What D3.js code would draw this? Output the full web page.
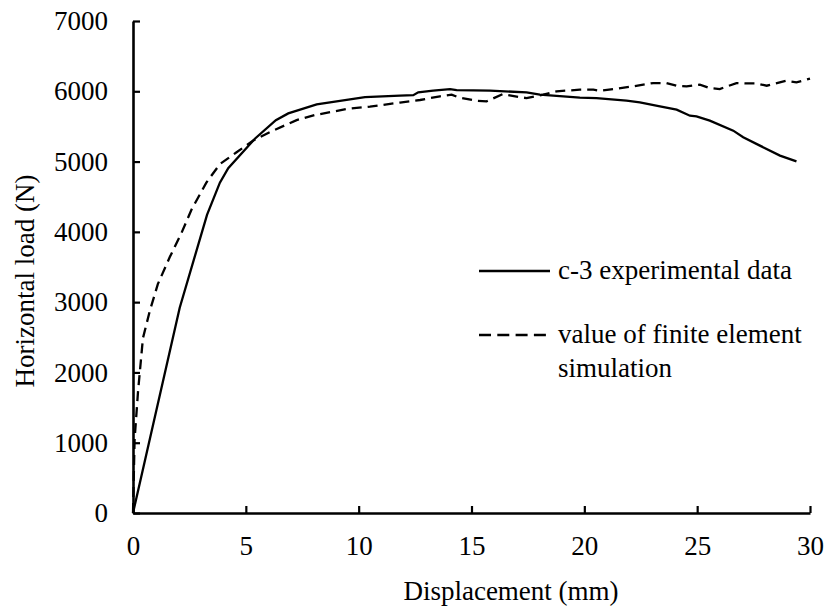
<!DOCTYPE html>
<html>
<head>
<meta charset="utf-8">
<script src="https://cdn.jsdelivr.net/npm/d3@7"></script>
<style>
  body { margin: 0; background: #fff; }
</style>
</head>
<body>
<div id="chart"></div>
<script>
// c-3 experimental data: displacement (mm) / load (N)
const expDisp = [0, 2.07, 3.28, 3.85, 4.22, 5.4, 6.33, 6.88, 8.14, 10.28, 11.83, 12.42, 12.64, 13.3, 14.05, 14.34,
    15.82, 17.44, 18.03, 19.8, 20.54, 21.87, 22.46, 23.35, 24.09, 24.68, 24.97, 25.56, 26.6, 27.04, 27.78, 28.67, 29.4];
const expLoad = [0, 2920, 4242, 4700, 4906, 5325, 5589, 5685, 5815, 5916, 5937, 5945, 5985, 6008, 6032, 6017,
    6008, 5985, 5952, 5910, 5904, 5866, 5843, 5785, 5738, 5653, 5644, 5582, 5440, 5345, 5227, 5085, 5004];

// finite element simulation
const simDisp = [0, 0.07, 0.22, 0.44, 0.74, 1.1, 1.63, 2.14, 2.59, 3.25, 3.85, 4.59, 5.33, 6.07, 7.25, 8.05, 9.47,
    10.5, 11.83, 12.72, 13.6, 14.12, 14.42, 15.23, 15.67, 16.4, 17.15, 17.44, 18.18, 18.77, 19.8, 20.4, 20.69,
    21.28, 22.17, 23.05, 23.64, 24.09, 24.53, 25.12, 25.56, 26.0, 26.74, 27.19, 27.63, 28.08, 28.96, 29.4, 30];
const simLoad = [0, 1040, 1717, 2487, 2870, 3256, 3641, 3978, 4315, 4700, 4964, 5132, 5300, 5420, 5590, 5661, 5748,
    5782, 5840, 5876, 5928, 5952, 5914, 5866, 5857, 5961, 5914, 5904, 5952, 5999, 6023, 6023, 6008,
    6032, 6070, 6117, 6117, 6079, 6070, 6094, 6046, 6032, 6117, 6112, 6112, 6079, 6150, 6126, 6180];

const xTicks = [0, 5, 10, 15, 20, 25, 30];
const yTicks = [0, 1000, 2000, 3000, 4000, 5000, 6000, 7000];

const legendLabels = [["c-3 experimental data"], ["value of finite element", "simulation"]];

const width = 827, height = 608;
const margin = { left: 133, right: 17, top: 21, bottom: 95 };
const fontSize = 27;

const svg = d3.select('#chart').append('svg')
    .attr('width', width)
    .attr('height', height)
    .attr('font-family', 'Liberation Serif')
    .attr('font-size', fontSize);

const x = d3.scaleLinear().domain([0, 30]).range([margin.left, width - margin.right]);
const y = d3.scaleLinear().domain([0, 7000]).range([height - margin.bottom, margin.top]);

// axes, ticks point inwards
const xAxis = svg.append('g')
    .attr('transform', `translate(0,${y(0)})`)
    .call(d3.axisBottom(x).tickValues(xTicks).tickFormat(d3.format('d'))
        .tickSizeInner(-7).tickSizeOuter(0).tickPadding(23));
const yAxis = svg.append('g')
    .attr('transform', `translate(${x(0)},0)`)
    .call(d3.axisLeft(y).tickValues(yTicks).tickFormat(d3.format('d'))
        .tickSizeInner(-7).tickSizeOuter(0).tickPadding(25));

[xAxis, yAxis].forEach(a => {
    a.attr('font-family', 'Liberation Serif').attr('font-size', fontSize);
    a.select('.domain').attr('stroke', '#000').attr('stroke-width', 2.6);
    a.selectAll('.tick line').attr('stroke', '#000').attr('stroke-width', 2.2);
    a.selectAll('.tick text').attr('fill', '#000');
});

const line = d3.line()
    .x(d => x(d[0]))
    .y(d => y(d[1]));

svg.append('path')
    .datum(d3.zip(simDisp, simLoad))
    .attr('d', line)
    .attr('fill', 'none')
    .attr('stroke', '#000')
    .attr('stroke-width', 2.3)
    .attr('stroke-dasharray', '10,6');

svg.append('path')
    .datum(d3.zip(expDisp, expLoad))
    .attr('d', line)
    .attr('fill', 'none')
    .attr('stroke', '#000')
    .attr('stroke-width', 2.3);

// legend
const legend = svg.append('g');
legendLabels.forEach((lines, i) => {
    const ly = 271 + i * 64;
    legend.append('line')
        .attr('x1', 479).attr('x2', i === 0 ? 550 : 546)
        .attr('y1', ly).attr('y2', ly)
        .attr('stroke', '#000')
        .attr('stroke-width', 2.3)
        .attr('stroke-dasharray', i === 0 ? null : '12,6.3');
    lines.forEach((t, j) => {
        legend.append('text')
            .attr('x', 558)
            .attr('y', ly + 8 + j * 34)
            .text(t);
    });
});

svg.append('text')
    .attr('x', 511)
    .attr('y', 600)
    .attr('text-anchor', 'middle')
    .text('Displacement (mm)');

svg.append('text')
    .attr('transform', 'translate(34,281) rotate(-90)')
    .attr('text-anchor', 'middle')
    .text('Horizontal load (N)');
</script>
</body>
</html>
